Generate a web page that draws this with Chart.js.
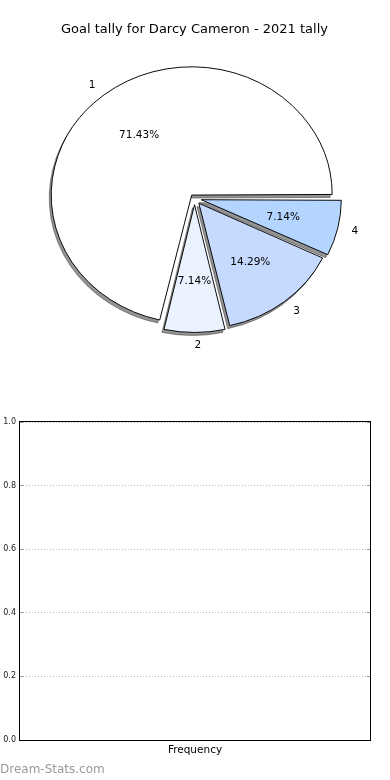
<!DOCTYPE html>
<html>
<head>
<meta charset="utf-8">
<script src="https://cdn.jsdelivr.net/npm/chart.js@4.4.0/dist/chart.umd.min.js"></script>
<style>
  body { margin: 0; background: #fff; }
  .wrap { position: relative; width: 390px; height: 780px; overflow: hidden; }
  canvas { position: absolute; left: 0; }
  #pieChart { top: 0; }
  #freqChart { top: 390px; }
  .brand { position: absolute; left: 0; top: 763px; font: 12px/12px "DejaVu Sans", sans-serif; color: #999; }
</style>
</head>
<body>
<div class="wrap">
  <canvas id="pieChart" width="390" height="390"></canvas>
  <canvas id="freqChart" width="390" height="390"></canvas>
  <div class="brand">Dream-Stats.com</div>
</div>
<script>
const goalLabels = ["1", "2", "3", "4"];
const goalCounts = [10, 1, 2, 1];
const sliceColors = ["#ffffff", "#eaf1ff", "#c6d9ff", "#b3d5ff"];
const sliceOffsets = [18, 28, 28, 28];

const freqLabels = [];
const freqValues = [];
const yTicks = [0, 0.2, 0.4, 0.6, 0.8, 1.0];

const SQUASH = 0.913;
const FONT = "DejaVu Sans";

function byId(id) {
  return document.getElementById(id);
}

function squash(ctx, cx, cy) {
  ctx.translate(cx, cy);
  ctx.scale(1, SQUASH);
  ctx.translate(-cx, -cy);
}

// squash the pie into an ellipse; draw a flat shadow pass first
const ellipsePlugin = {
  id: "ellipse",
  beforeDatasetsDraw(chart) {
    const ctx = chart.ctx;
    const arcs = chart.getDatasetMeta(0).data;
    const { x, y } = arcs[0];
    // shapes drawn off-canvas, only their shadows land on the chart
    ctx.save();
    ctx.translate(-1000, 0);
    squash(ctx, x, y);
    ctx.shadowColor = "rgba(60,60,60,0.55)";
    ctx.shadowOffsetX = 1000 - 2;
    ctx.shadowOffsetY = 3;
    arcs.forEach((arc) => arc.draw(ctx));
    ctx.restore();

    ctx.save();
    squash(ctx, x, y);
  },
  afterDatasetsDraw(chart) {
    chart.ctx.restore();
  }
};

const pieLabelPlugin = {
  id: "pieLabels",
  afterDatasetsDraw(chart) {
    const ctx = chart.ctx;
    const meta = chart.getDatasetMeta(0);
    const data = chart.data.datasets[0].data;
    const labels = chart.data.labels;
    const total = data.reduce((a, b) => a + b, 0);
    ctx.save();
    ctx.font = `10.5px "${FONT}"`;
    ctx.fillStyle = "#000";
    ctx.textBaseline = "middle";
    meta.data.forEach((arc, i) => {
      const off = (arc.options.offset || 0) / 4;
      const circ = arc.endAngle - arc.startAngle;
      const r = arc.outerRadius + off * (1 - Math.sin(Math.min(Math.PI, circ)));
      const mid = (arc.startAngle + arc.endAngle) / 2;
      const at = (k) => {
        const d = off + k * r;
        return [arc.x + Math.cos(mid) * d, arc.y + Math.sin(mid) * d * SQUASH];
      };
      const [lx, ly] = at(1.1);
      ctx.textAlign = Math.cos(mid) > -1e-9 ? "left" : "right";
      ctx.fillText(labels[i], lx, ly);
      const [px, py] = at(0.6);
      ctx.textAlign = "center";
      ctx.fillText((data[i] / total * 100).toFixed(2) + "%", px, py);
    });
    ctx.restore();
  }
};

const framePlugin = {
  id: "frame",
  afterDraw(chart) {
    const { ctx, chartArea: a } = chart;
    ctx.save();
    ctx.strokeStyle = "#000";
    ctx.lineWidth = 1;
    ctx.strokeRect(a.left - 0.5, a.top - 0.5, a.right - a.left + 1, a.bottom - a.top + 1);
    ctx.restore();
  }
};

new Chart(byId("pieChart"), {
  type: "pie",
  data: {
    labels: goalLabels.slice().reverse(),
    datasets: [{
      data: goalCounts.slice().reverse(),
      backgroundColor: sliceColors.slice().reverse(),
      offset: sliceOffsets.slice().reverse(),
      borderColor: "#000",
      borderWidth: 1,
      radius: 136
    }]
  },
  options: {
    responsive: false,
    animation: false,
    events: [],
    rotation: 90,
    radius: 136,
    layout: { padding: { top: 0, right: 1, bottom: 31, left: 0 } },
    plugins: {
      legend: { display: false },
      tooltip: { enabled: false },
      title: {
        display: true,
        text: "Goal tally for Darcy Cameron - 2021 tally",
        color: "#000",
        font: { family: FONT, size: 13, weight: "normal", lineHeight: 1.2 },
        padding: { top: 22, bottom: 0 }
      }
    }
  },
  plugins: [ellipsePlugin, pieLabelPlugin]
});

const tickSet = (s) => { s.ticks = yTicks.map((v) => ({ value: v })); };

new Chart(byId("freqChart"), {
  type: "bar",
  data: {
    labels: freqLabels,
    datasets: [{ label: "Frequency", data: freqValues, backgroundColor: "#b3d5ff" }]
  },
  options: {
    responsive: false,
    animation: false,
    events: [],
    layout: { padding: { top: 32, right: 0, bottom: 0, left: 0 } },
    plugins: { legend: { display: false }, tooltip: { enabled: false } },
    scales: {
      x: {
        display: true,
        grid: { display: false },
        ticks: { display: false },
        border: { display: false },
        title: {
          display: true,
          text: "Frequency",
          color: "#000",
          font: { family: FONT, size: 10.5, lineHeight: 1.2 },
          padding: { top: 0, bottom: 23 }
        },
        afterFit: (s) => { s.height = 40; }
      },
      y: {
        min: 0,
        max: 1,
        afterBuildTicks: tickSet,
        ticks: { callback: (v) => Number(v).toFixed(1), color: "#222", font: { family: FONT, size: 8 }, padding: 7 },
        grid: { color: "#b8b8b8", tickColor: "#999", tickLength: -3 },
        border: { display: false, dash: [1, 2] },
        afterFit: (s) => { s.width = 20; }
      },
      y2: {
        display: true,
        position: "right",
        min: 0,
        max: 1,
        afterBuildTicks: tickSet,
        ticks: { display: false },
        grid: { drawOnChartArea: false, tickColor: "#999", tickLength: -3 },
        border: { display: false },
        afterFit: (s) => { s.width = 20; }
      }
    }
  },
  plugins: [framePlugin]
});
</script>
</body>
</html>
